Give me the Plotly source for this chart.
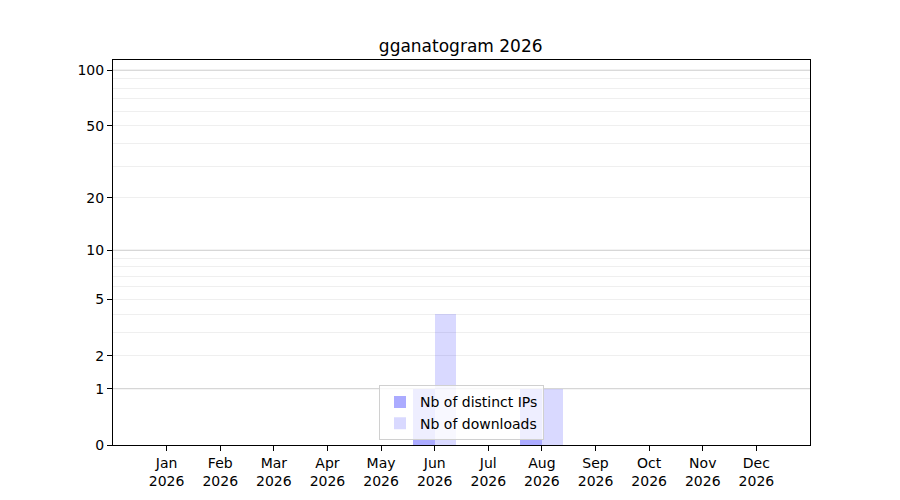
import numpy as np
import plotly.graph_objects as go

# donnees du graphique
mois = ["Jan", "Feb", "Mar", "Apr", "May", "Jun", "Jul", "Aug", "Sep", "Oct", "Nov", "Dec"]
annee = "2026"
ips_distinctes = [0, 0, 0, 0, 0, 1, 0, 1, 0, 0, 0, 0]
telechargements = [0, 0, 0, 0, 0, 4, 0, 1, 0, 0, 0, 0]

ticks_y = [0, 1, 2, 5, 10, 20, 50, 100]
grille_majeure = [1, 10, 100]
grille_mineure = [2, 3, 4, 5, 6, 7, 8, 9, 20, 30, 40, 50, 60, 70, 80, 90]


# echelle symlog simple : log10(v + 1)
def echelle(v):
    return np.log10(np.array(v, dtype=float) + 1)


x = np.arange(len(mois))
etiquettes_x = [f"{m}<br>{annee}" for m in mois]

fig = go.Figure()
fig.add_trace(go.Bar(
    x=x, y=echelle(ips_distinctes), width=0.4, offset=-0.4,
    marker=dict(color="rgba(0,0,255,0.33)", line=dict(width=0)),
    name="Nb of distinct IPs",
))
fig.add_trace(go.Bar(
    x=x, y=echelle(telechargements), width=0.4, offset=0,
    marker=dict(color="rgba(0,0,255,0.15)", line=dict(width=0)),
    name="Nb of downloads",
))

# lignes de grille principales (1, 10, 100)
for v in grille_majeure:
    fig.add_shape(type="line", xref="paper", x0=0, x1=1, yref="y",
                  y0=float(echelle(v)), y1=float(echelle(v)),
                  line=dict(color="#cccccc", width=1), layer="below")

fig.update_layout(
    width=900, height=500,
    margin=dict(l=105, r=98, t=52, b=63),
    paper_bgcolor="white", plot_bgcolor="white",
    font=dict(family="DejaVu Sans", size=14, color="black"),
    title=dict(text="gganatogram 2026", x=0.503, xanchor="center",
               y=0.924, yanchor="middle", font=dict(size=17)),
    showlegend=True,
    legend=dict(x=0.5, xanchor="center", y=0.012, yanchor="bottom",
                bgcolor="rgba(255,255,255,0.8)", bordercolor="#d0d0d0",
                borderwidth=1, font=dict(size=14), tracegroupgap=0),
    bargap=0,
)
fig.update_xaxes(
    range=[-1, 12], tickmode="array", tickvals=x, ticktext=etiquettes_x,
    showgrid=False, zeroline=False, showline=True, linecolor="black",
    linewidth=1, mirror=True, ticks="outside", ticklen=5, tickcolor="black",
)
fig.update_yaxes(
    range=[0, 2.059], tickmode="array", tickvals=echelle(ticks_y),
    ticktext=[str(t) for t in ticks_y],
    showgrid=False, zeroline=False, showline=True, linecolor="black",
    linewidth=1, mirror=True, ticks="outside", ticklen=5, tickcolor="black",
    minor=dict(tickmode="array", tickvals=echelle(grille_mineure),
               showgrid=True, gridcolor="#efefef", gridwidth=1, ticks=""),
)

fig.write_html("out.html")
